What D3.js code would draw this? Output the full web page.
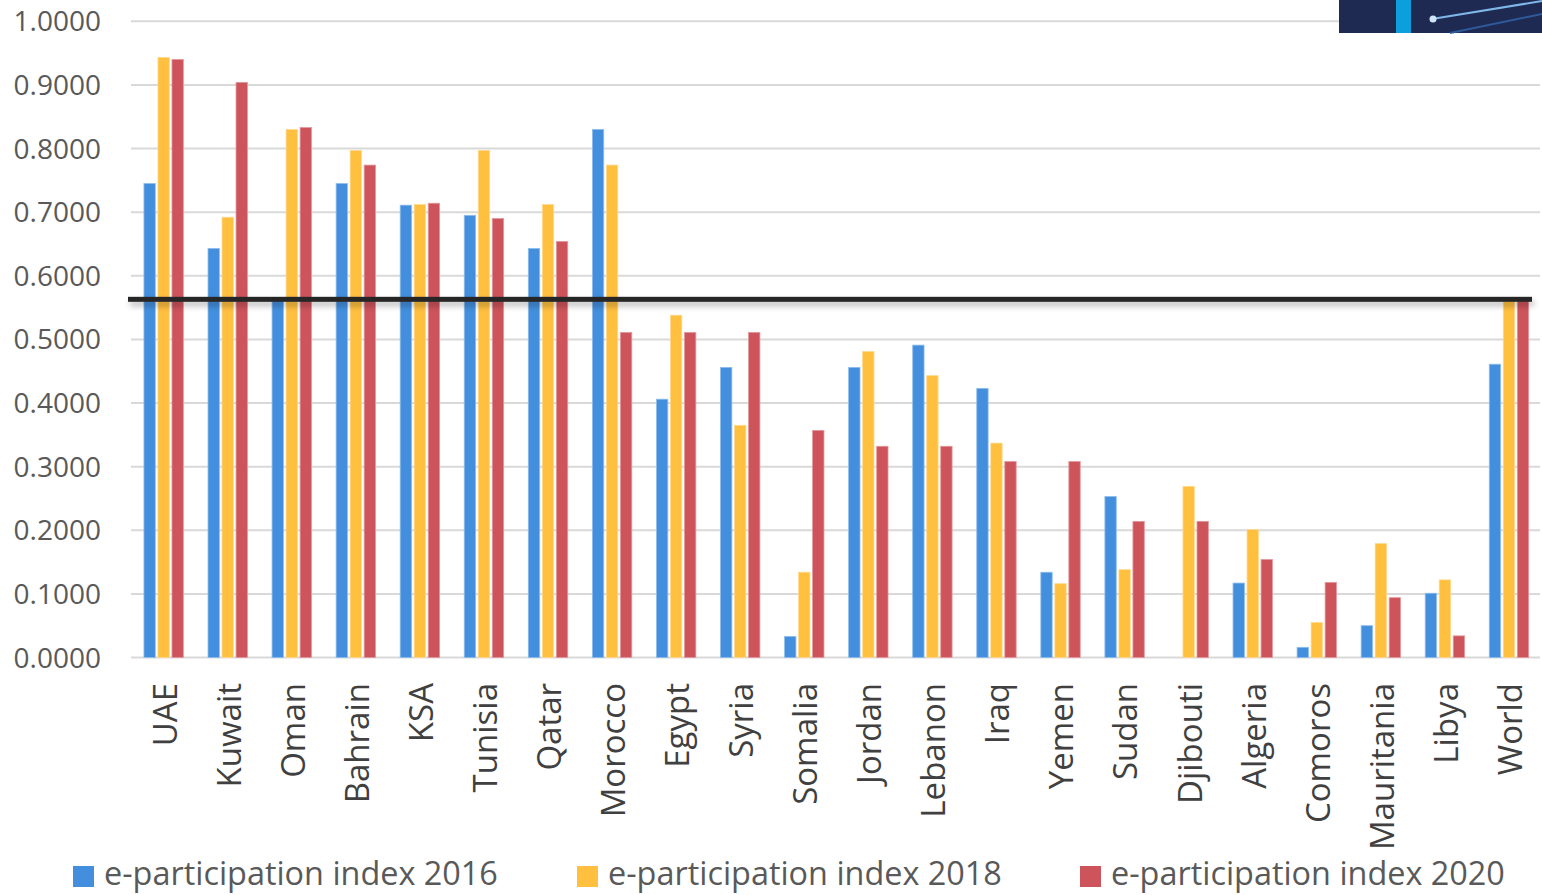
<!DOCTYPE html>
<html><head><meta charset="utf-8">
<script src="https://cdn.jsdelivr.net/npm/d3@7"></script>
<style>html,body{margin:0;padding:0;background:#fff;overflow:hidden}svg{display:block}</style>
</head><body>
<svg id="chart" width="1542" height="895"></svg>
<script>
const categories = ["UAE","Kuwait","Oman","Bahrain","KSA","Tunisia","Qatar","Morocco","Egypt","Syria","Somalia","Jordan","Lebanon","Iraq","Yemen","Sudan","Djibouti","Algeria","Comoros","Mauritania","Libya","World"];
const seriesNames = ["e-participation index 2016","e-participation index 2018","e-participation index 2020"];
const values2016 = [0.745,0.643,0.562,0.745,0.711,0.695,0.643,0.830,0.406,0.456,0.033,0.456,0.491,0.423,0.134,0.253,0,0.117,0.016,0.050,0.101,0.461];
const values2018 = [0.943,0.692,0.830,0.797,0.712,0.797,0.712,0.774,0.538,0.365,0.134,0.481,0.443,0.337,0.116,0.138,0.269,0.201,0.055,0.179,0.122,0.565];
const values2020 = [0.940,0.904,0.833,0.774,0.714,0.690,0.654,0.511,0.511,0.511,0.357,0.332,0.332,0.308,0.308,0.214,0.214,0.154,0.118,0.094,0.034,0.566];
const yTicks = [0,0.1,0.2,0.3,0.4,0.5,0.6,0.7,0.8,0.9,1.0];
const referenceValue = 0.563;

const seriesValues = [values2016, values2018, values2020];
const colors = ["#438FDE","#FFBF3F","#CD545B"];
const strokes = ["#8DBDED","#FFD98C","#E4979B"];

const svg = d3.select("#chart");
const defs = svg.append("defs");
const f = defs.append("filter").attr("id","shadow").attr("filterUnits","userSpaceOnUse")
  .attr("x",100).attr("y",270).attr("width",1460).attr("height",60);
f.append("feGaussianBlur").attr("in","SourceAlpha").attr("stdDeviation",3);
f.append("feOffset").attr("dx",2).attr("dy",4).attr("result","ob");
f.append("feComponentTransfer").append("feFuncA").attr("type","linear").attr("slope",0.3);
const fm = f.append("feMerge"); fm.append("feMergeNode"); fm.append("feMergeNode").attr("in","SourceGraphic");

const x0 = 131.6, x1 = 1541;
const y = d3.scaleLinear().domain([0,1]).range([657.5,21.3]);
const x = d3.scaleBand().domain(categories).range([x0,x1]).paddingInner(0).paddingOuter(0);
const xs = d3.scaleBand().domain(seriesNames).range([0,x.bandwidth()]).paddingInner(0.19).paddingOuter(0.88);

// gridlines
svg.append("g").selectAll("line").data(yTicks).join("line")
  .attr("x1",131).attr("x2",1540)
  .attr("y1",d=>y(d)).attr("y2",d=>y(d))
  .attr("stroke","#D9D9D9").attr("stroke-width",2);

// y axis labels
const yAxis = d3.axisLeft(y).tickValues(yTicks).tickFormat(d3.format(".4f")).tickSize(0).tickPadding(0);
const gy = svg.append("g").attr("transform","translate(101,0)").call(yAxis);
gy.select(".domain").remove();
gy.selectAll("text").attr("font-family","'Open Sans', sans-serif").attr("font-size",28).attr("fill","#595959").attr("dy","0.34em");

// bars
const rows = categories.map((c,i)=>({c, vals: seriesValues.map((s,j)=>({s:seriesNames[j], v:s[i], j}))}));
const groups = svg.append("g").selectAll("g").data(rows).join("g")
  .attr("transform",d=>`translate(${x(d.c)},0)`);
groups.selectAll("rect").data(d=>d.vals.filter(v=>v.v>0)).join("rect")
  .attr("x",d=>xs(d.s)).attr("width",xs.bandwidth())
  .attr("y",d=>y(d.v)).attr("height",d=>y(0)-y(d.v))
  .attr("fill",d=>colors[d.j]).attr("stroke",d=>strokes[d.j]).attr("stroke-width",0.8);

// reference line (drawn as a thin rect so the shadow filter applies)
svg.append("rect").attr("x",128).attr("width",1404)
  .attr("y",y(referenceValue)-2.5).attr("height",5)
  .attr("fill","#262626").attr("filter","url(#shadow)");

// x labels
const gx = svg.append("g");
gx.selectAll("text").data(categories).join("text")
  .attr("transform",d=>`translate(${x(d)+x.bandwidth()/2+1},683) rotate(-90)`)
  .attr("text-anchor","end").attr("dy","0.36em")
  .attr("font-family","'Open Sans', sans-serif").attr("font-size",33).attr("fill","#404040")
  .text(d=>d);

// legend
const legendX = [73,577,1080];
const lg = svg.append("g").selectAll("g").data(seriesNames).join("g")
  .attr("transform",(d,i)=>`translate(${legendX[i]},866)`);
lg.append("rect").attr("width",21).attr("height",21).attr("fill",(d,i)=>colors[i]);
lg.append("text").attr("x",31).attr("y",19).attr("font-family","'Open Sans', sans-serif")
  .attr("font-size",32.4).attr("fill","#595959").text(d=>d);

// decorative banner top-right
const ban = svg.append("g");
ban.append("rect").attr("x",1339).attr("y",0).attr("width",203).attr("height",33).attr("fill","#1E2A52");
ban.append("rect").attr("x",1396).attr("y",0).attr("width",15).attr("height",33).attr("fill","#0B9FDD");
ban.append("line").attr("x1",1432).attr("y1",19).attr("x2",1542).attr("y2",1).attr("stroke","#7FB8E8").attr("stroke-width",2);
ban.append("line").attr("x1",1450).attr("y1",33).attr("x2",1542).attr("y2",14).attr("stroke","#2F5A9A").attr("stroke-width",2);
ban.append("circle").attr("cx",1433).attr("cy",19).attr("r",3.5).attr("fill","#CFE6F8");
</script>
</body></html>
